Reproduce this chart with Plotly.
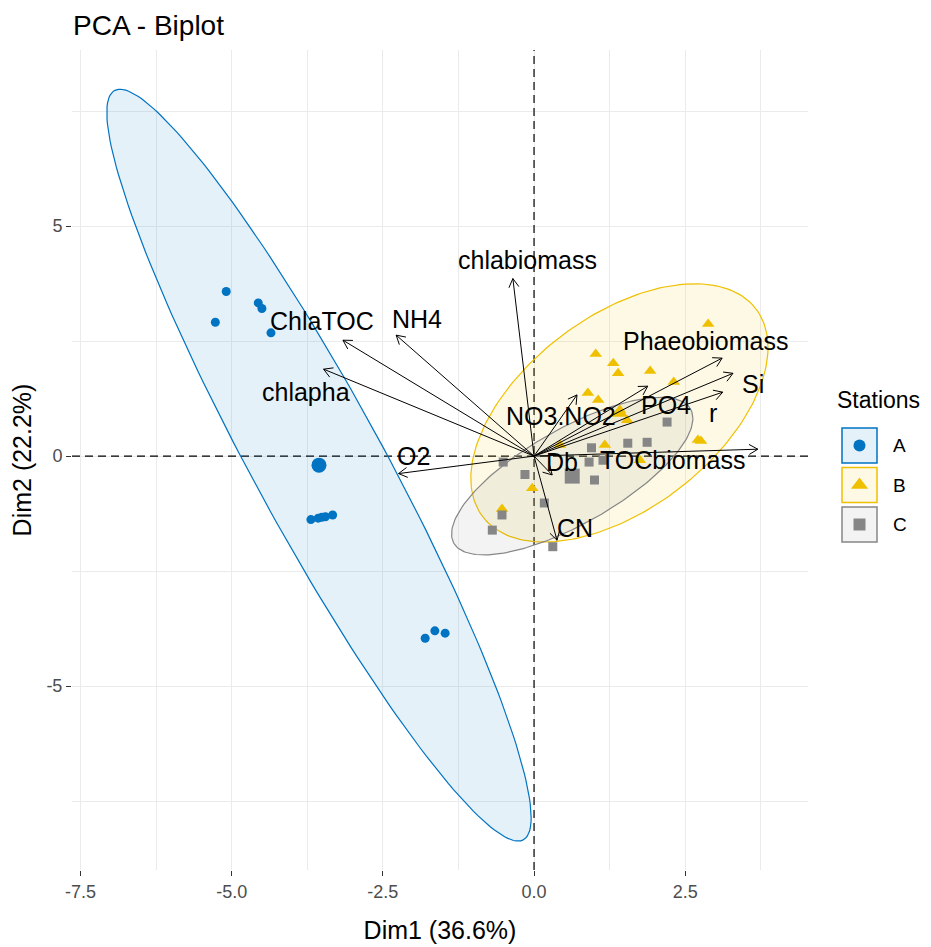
import numpy as np
import plotly.graph_objects as go

# ---------------- data ----------------
title_text = "PCA - Biplot"
x_title = "Dim1 (36.6%)"
y_title = "Dim2 (22.2%)"
legend_title = "Stations"
groups = ["A", "B", "C"]
group_colors = ["#0073C2", "#EFC000", "#868686"]
group_symbols = ["circle", "triangle-up", "square"]

a_x = [-5.27, -5.09, -4.56, -4.50, -4.35, -3.69, -3.57, -3.51, -3.45, -3.33, -1.80, -1.64, -1.47]
a_y = [2.91, 3.58, 3.33, 3.21, 2.68, -1.38, -1.35, -1.33, -1.32, -1.28, -3.96, -3.80, -3.85]

b_x = [2.88, 1.02, 1.31, 1.39, 1.92, 2.31, 0.89, 1.06, 1.42, 1.54, 2.71, 2.76, 1.17, 0.43, 1.75, -0.03, -0.53, 1.41]
b_y = [2.87, 2.22, 2.02, 1.80, 1.85, 1.61, 1.37, 1.22, 1.00, 0.78, 0.35, 0.33, 0.24, 0.24, -0.09, -0.70, -1.15, 0.94]

c_x = [2.20, 1.55, 1.87, 0.95, 0.91, 1.14, -0.51, -0.15, 1.00, 0.17, -0.53, -0.69, 0.31,
       0.63, 0.64, 0.62, 0.63, 0.65, 0.61, 0.63]
c_y = [0.74, 0.28, 0.30, 0.18, -0.13, -0.09, -0.13, -0.40, -0.52, -1.02, -1.28, -1.61, -1.97,
       -0.43, -0.45, -0.42, -0.44, -0.43, -0.44, -0.45]

var_names = ["chlabiomass", "ChlaTOC", "NH4", "chlapha", "O2", "NO3.NO2", "Phaeobiomass",
             "Si", "r", "PO4", "TOCbiomass", "Db", "CN"]
var_x = [-0.35, -3.16, -2.28, -3.48, -2.24, 0.71, 3.11, 3.29, 3.12, 1.88, 3.70, 0.30, 0.38]
var_y = [3.86, 2.52, 2.63, 1.89, -0.38, 1.33, 2.13, 1.80, 1.39, 1.52, 0.15, -0.41, -1.83]

x_tick_vals = [-7.5, -5.0, -2.5, 0.0, 2.5]
x_tick_text = ["-7.5", "-5.0", "-2.5", "0.0", "2.5"]
y_tick_vals = [-5, 0, 5]
y_tick_text = ["-5", "0", "5"]

# ---------------- styling / layout constants ----------------
OFF = 8                      # default page body margin
W, H = 931 - OFF, 947 - OFF
ML, MT = 72 - OFF, 50 - OFF
PANEL_W, PANEL_H = 736, 820
MB = H - MT - PANEL_H
XR = [-7.64, 4.53]
YR = [-9.0, 8.83]
kx = PANEL_W / (XR[1] - XR[0])
ky = PANEL_H / (YR[1] - YR[0])
FONT = "Liberation Sans, Arial, sans-serif"

# label offsets in pixels (dx right, dy down) relative to arrow tips
lab_dx = [15, -21, 21, -18, 15, -16, -17, 20, -10, 18, -85, 10, 18]
lab_dy = [-19, -19, -16, 23, -18, 21, -17, 11, 21, 19, 11, -13, -12]


def norm_ellipse(xs, ys, level=0.95, npts=200):
    pts = np.column_stack([xs, ys])
    n = len(pts)
    ctr = pts.mean(axis=0)
    cov = np.cov(pts.T)
    dfd = n - 1
    fq = dfd / 2.0 * ((1 - level) ** (-2.0 / dfd) - 1)   # qf(level, 2, dfd)
    r = np.sqrt(2 * fq)
    L = np.linalg.cholesky(cov)
    t = np.linspace(0, 2 * np.pi, npts)
    unit = np.column_stack([np.cos(t), np.sin(t)])
    e = ctr + r * unit @ L.T
    return e[:, 0], e[:, 1]


def rgba(hexc, a):
    h = hexc.lstrip("#")
    return "rgba(%d,%d,%d,%.3f)" % (int(h[0:2], 16), int(h[2:4], 16), int(h[4:6], 16), a)


fig = go.Figure()

# dashed reference lines through the origin
dash_style = dict(color="black", width=1.2, dash="8px,5px")
fig.add_trace(go.Scatter(x=[0, 0], y=YR, mode="lines", line=dash_style, hoverinfo="skip", showlegend=False))
fig.add_trace(go.Scatter(x=XR, y=[0, 0], mode="lines", line=dash_style, hoverinfo="skip", showlegend=False))

data_groups = [(a_x, a_y), (b_x, b_y), (c_x, c_y)]

# ellipses
for (gx, gy), col in zip(data_groups, group_colors):
    ex, ey = norm_ellipse(gx, gy)
    fig.add_trace(go.Scatter(x=ex, y=ey, mode="lines", fill="toself",
                             fillcolor=rgba(col, 0.1), line=dict(color=col, width=1.2),
                             hoverinfo="skip", showlegend=False))

# points
pt_sizes = [9, 11, 9]
for (gx, gy), col, sym, sz, g in zip(data_groups, group_colors, group_symbols, pt_sizes, groups):
    fig.add_trace(go.Scatter(x=gx, y=gy, mode="markers", name=g,
                             marker=dict(color=col, symbol=sym, size=sz, line=dict(width=0)),
                             showlegend=False))

# group means
for (gx, gy), col, sym in zip(data_groups, group_colors, group_symbols):
    fig.add_trace(go.Scatter(x=[np.mean(gx)], y=[np.mean(gy)], mode="markers",
                             marker=dict(color=col, symbol=sym, size=15, line=dict(width=0)),
                             showlegend=False))

# arrows (shafts)
sx, sy = [], []
for vx, vy in zip(var_x, var_y):
    sx += [0, vx, None]
    sy += [0, vy, None]
# arrow heads (open chevrons), computed in pixel space
hx, hy = [], []
head_len = 10.0
ang = np.deg2rad(30)
for vx, vy in zip(var_x, var_y):
    px, py = vx * kx, vy * ky
    ln = np.hypot(px, py)
    ux, uy = -px / ln, -py / ln
    pts = []
    for s in (ang, -ang):
        rx = ux * np.cos(s) - uy * np.sin(s)
        ry = ux * np.sin(s) + uy * np.cos(s)
        pts.append((vx + head_len * rx / kx, vy + head_len * ry / ky))
    hx += [pts[0][0], vx, pts[1][0], None]
    hy += [pts[0][1], vy, pts[1][1], None]
fig.add_trace(go.Scatter(x=sx, y=sy, mode="lines", line=dict(color="black", width=1),
                         hoverinfo="skip", showlegend=False))
fig.add_trace(go.Scatter(x=hx, y=hy, mode="lines", line=dict(color="black", width=1),
                         hoverinfo="skip", showlegend=False))

# variable labels
for name, vx, vy, dx, dy in zip(var_names, var_x, var_y, lab_dx, lab_dy):
    fig.add_annotation(x=vx, y=vy, xref="x", yref="y", text=name, showarrow=False,
                       xshift=dx, yshift=-dy, xanchor="center", yanchor="middle",
                       font=dict(family=FONT, size=25, color="black"))

# ---------------- legend (drawn on a page-pixel-scaled auxiliary axis) ----------------
LEG_X0 = 72 + PANEL_W          # page x of panel right edge
key_left, key_size, key_top0, key_step = 842, 35, 428, 39.5
key_marker_sizes = [12, 15, 12]
for i, (g, col, sym) in enumerate(zip(groups, group_colors, group_symbols)):
    top = key_top0 + i * key_step
    fig.add_shape(type="rect", xref="x2", yref="y2", x0=key_left, x1=key_left + key_size,
                  y0=top, y1=top + key_size, fillcolor=rgba(col, 0.1),
                  line=dict(color=col, width=1.5), layer="below")
    fig.add_trace(go.Scatter(x=[key_left + key_size / 2], y=[top + key_size / 2],
                             xaxis="x2", yaxis="y2", mode="markers",
                             marker=dict(color=col, symbol=sym, size=key_marker_sizes[i], line=dict(width=0)),
                             hoverinfo="skip", showlegend=False))
    fig.add_annotation(x=key_left + key_size + 14, y=top + key_size / 2, xref="x2", yref="y2",
                       text=g, showarrow=False, xanchor="left", yanchor="middle",
                       font=dict(family=FONT, size=19, color="black"))
fig.add_annotation(x=835, y=400, xref="x2", yref="y2", text=legend_title, showarrow=False,
                   xanchor="left", yanchor="middle", font=dict(family=FONT, size=23, color="black"))

axis_common = dict(showline=False, zeroline=False, gridcolor="#EBEBEB", gridwidth=1.2,
                   ticks="outside", ticklen=5, tickcolor="#333333", tickwidth=1,
                   tickfont=dict(family=FONT, size=18, color="#4D4D4D"))

fig.update_layout(
    width=W, height=H,
    margin=dict(l=ML, r=0, t=MT, b=MB),
    paper_bgcolor="white", plot_bgcolor="white",
    showlegend=False,
    title=dict(text=title_text, x=(73 - OFF) / W, xanchor="left", xref="container",
               y=1 - (25 - OFF) / H, yanchor="middle", yref="container",
               font=dict(family=FONT, size=28, color="black")),
    xaxis=dict(domain=[0, PANEL_W / (W - ML)], range=XR, tickmode="array",
               tickvals=x_tick_vals, ticktext=x_tick_text,
               minor=dict(tickmode="linear", tick0=0, dtick=1.25, showgrid=True,
                          gridcolor="#EBEBEB", gridwidth=0.8),
               title=dict(text=x_title, standoff=20, font=dict(family=FONT, size=25, color="black")),
               **axis_common),
    yaxis=dict(domain=[0, 1], range=YR, tickmode="array",
               tickvals=y_tick_vals, ticktext=y_tick_text,
               minor=dict(tickmode="linear", tick0=0, dtick=2.5, showgrid=True,
                          gridcolor="#EBEBEB", gridwidth=0.8),
               title=dict(text=y_title, standoff=12, font=dict(family=FONT, size=25, color="black")),
               **axis_common),
    xaxis2=dict(domain=[PANEL_W / (W - ML), 1], range=[LEG_X0, 931], visible=False,
                anchor="y2", fixedrange=True),
    yaxis2=dict(domain=[0, 1], range=[50 + PANEL_H, 50], visible=False, anchor="x2", fixedrange=True),
)

fig.write_html("out.html")
